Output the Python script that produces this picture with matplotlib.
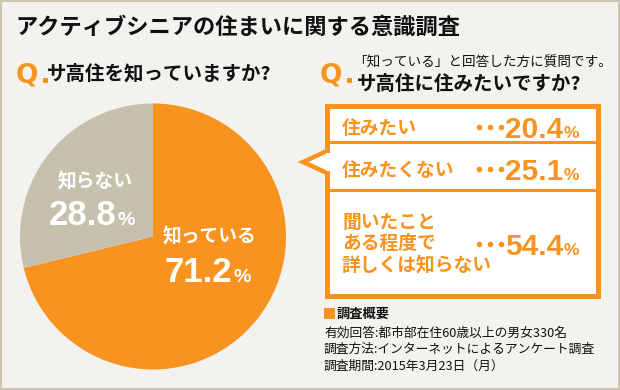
import matplotlib
matplotlib.use("Agg")
import matplotlib.pyplot as plt
from matplotlib.patches import Rectangle, Polygon

# data
pie_labels = ["知っている", "知らない"]
pie_values = [71.2, 28.8]
answer_labels = ["住みたい", "住みたくない", "聞いたこと\nある程度で\n詳しくは知らない"]
answer_values = [20.4, 25.1, 54.4]

title = "アクティブシニアの住まいに関する意識調査"
q1 = "サ高住を知っていますか?"
q2_note = "「知っている」と回答した方に質問です。"
q2 = "サ高住に住みたいですか?"
notes_head = "調査概要"
notes = ["有効回答:都市部在住60歳以上の男女330名",
         "調査方法:インターネットによるアンケート調査",
         "調査期間:2015年3月23日（月）"]

ORANGE = "#F7931E"
GREY = "#C6C1AC"
BG = "#F3F2EE"
JP = ["Noto Sans CJK JP", "DejaVu Sans"]
NUM = ["Liberation Sans", "DejaVu Sans"]

fig = plt.figure(figsize=(6.2, 3.9), dpi=100, facecolor=BG)

# pixel-coordinate overlay
bg = fig.add_axes([0, 0, 1, 1], zorder=2)
bg.set_xlim(0, 620)
bg.set_ylim(390, 0)
bg.axis("off")
bg.patch.set_visible(False)

# pie
cx, cy, r = 153, 236.5, 133
pax = fig.add_axes([(cx - r) / 620, 1 - (cy + r) / 390, 2 * r / 620, 2 * r / 390], zorder=1)
pax.pie(pie_values, colors=[ORANGE, GREY], startangle=90, counterclock=False,
        wedgeprops=dict(linewidth=0))
pax.set_xlim(-1, 1)
pax.set_ylim(-1, 1)
pax.set_aspect("auto")
pax.axis("off")

# frame
bg.add_patch(Rectangle((1, 1), 618, 388, fill=False, edgecolor="#CBC6B3", lw=1.5))

# title and questions
bg.text(15, 27, title, family=JP, weight="bold", fontsize=16, va="center", color="#111111")
for qx in (16, 320):
    bg.text(qx, 82, "Q", family="DejaVu Sans", weight="bold", fontsize=19, va="baseline",
            color=ORANGE)
    bg.add_patch(Rectangle((qx + 27, 78), 4.5, 4.5, facecolor=ORANGE, edgecolor="none"))
bg.text(47, 74, q1, family=JP, weight="bold", fontsize=14, va="center", color="#111111")
bg.text(353, 63, q2_note, family=JP, fontsize=9.8, va="center", color="#111111")
bg.text(357, 84, q2, family=JP, weight="bold", fontsize=14, va="center", color="#111111")

# pie labels
label_pos = [(210, 236, 282, 232), (95, 181, 225, 117)]
for (lx, ly, by, nx), lab, val in zip(label_pos, pie_labels, pie_values):
    bg.text(lx, ly, lab, family=JP, weight="bold", fontsize=13.5, color="white",
            ha="center", va="center")
    bg.text(nx, by, f"{val:.1f}", family=NUM, weight="bold", fontsize=25, color="white",
            ha="right", va="baseline")
    bg.text(nx + 1, by, "%", family=NUM, weight="bold", fontsize=14, color="white",
            ha="left", va="baseline")

# answer box
bg.add_patch(Rectangle((326.5, 105.5), 271, 190, facecolor="white", edgecolor=ORANGE, lw=3.6))
for sy in (142, 190):
    bg.plot([326, 598], [sy, sy], color=ORANGE, lw=2.2, solid_capstyle="butt")
bg.add_patch(Polygon([(327, 151), (303, 162), (327, 173)], closed=False,
                     facecolor="white", edgecolor=ORANGE, lw=3.2, joinstyle="miter"))
bg.add_patch(Rectangle((326, 153), 6, 18, facecolor="white", edgecolor="none"))

rows = [(128, 138), (170, 180), (222, 255)]
for (ly, by), lab, val in zip(rows, answer_labels, answer_values):
    for j, part in enumerate(lab.split("\n")):
        bg.text(342, ly + 21.5 * j, part, family=JP, weight="bold", fontsize=13.5,
                color=ORANGE, va="center")
    # leader dots
    bg.scatter([479, 490, 501], [by - 11.5] * 3, s=16, color=ORANGE, linewidths=0, zorder=3)
    bg.text(563, by, f"{val:.1f}", family=NUM, weight="bold", fontsize=21.5, color=ORANGE,
            ha="right", va="baseline")
    bg.text(564, by, "%", family=NUM, weight="bold", fontsize=12.5, color=ORANGE,
            ha="left", va="baseline")

# notes
bg.add_patch(Rectangle((324, 308), 11, 11, facecolor=ORANGE, edgecolor="none"))
bg.text(337, 313.5, notes_head, family=JP, weight="bold", fontsize=9.5, va="center", color="#111111")
for i, line in enumerate(notes):
    bg.text(324, 333 + 16.5 * i, line, family=JP, fontsize=9.2, va="center", color="#111111")

fig.savefig("out.png", dpi=100, facecolor=BG)
